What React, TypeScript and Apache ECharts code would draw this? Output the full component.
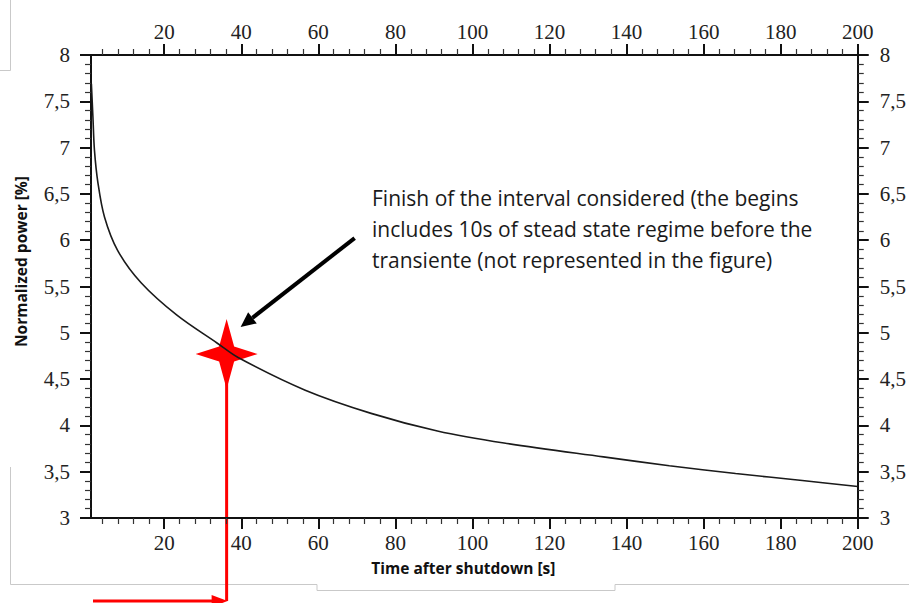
import React, { useEffect, useRef } from "react";
import * as echarts from "echarts";

// Time after shutdown [s]
const timeS = [1.1, 1.5, 1.9, 2.8, 4.5, 7.9, 14, 23.3, 33.7, 39.3, 56.6, 73.7, 90.9, 108.2, 134, 151.1, 168.3, 185.6, 200];
// Normalized power [%]
const powerPct = [7.69, 7.33, 6.97, 6.62, 6.25, 5.89, 5.54, 5.19, 4.89, 4.73, 4.38, 4.13, 3.94, 3.81, 3.66, 3.565, 3.48, 3.405, 3.34];
// End of the considered interval (red star)
const markerPoint = [36.2, 4.77];

const xMajorTicks = [20, 40, 60, 80, 100, 120, 140, 160, 180, 200];
const xMinorTicks = [4, 8, 12, 16, 24, 28, 32, 36, 44, 48, 52, 56, 64, 68, 72, 76, 84, 88, 92, 96, 104, 108, 112, 116, 124, 128, 132, 136, 144, 148, 152, 156, 164, 168, 172, 176, 184, 188, 192, 196];

const annotationLines = [
  "Finish of the interval considered (the begins",
  "includes 10s of stead state regime before the",
  "transiente (not represented in the figure)",
];

const X_MIN = 1;
const X_MAX = 200;
const Y_MIN = 3;
const Y_MAX = 8;

const tickFont = { fontFamily: "Liberation Serif", fontSize: 21, color: "#222" };

export default function App() {
  const ref = useRef<HTMLDivElement>(null);

  useEffect(() => {
    if (!ref.current) return;
    const chart = echarts.init(ref.current, undefined, { renderer: "svg" });

    const majorX = (position: string) => ({
      type: "value",
      position,
      min: X_MIN,
      max: X_MAX,
      axisLine: { show: true, onZero: false, lineStyle: { color: "#111", width: 2 } },
      axisTick: { show: true, customValues: xMajorTicks, length: 11, lineStyle: { color: "#111", width: 2 } },
      axisLabel: { show: true, customValues: xMajorTicks, margin: position === "top" ? 13 : 14, ...tickFont },
      splitLine: { show: false },
    });
    const minorX = (position: string) => ({
      type: "value",
      position,
      min: X_MIN,
      max: X_MAX,
      axisLine: { show: false, onZero: false },
      axisTick: { show: true, customValues: xMinorTicks, length: 6, lineStyle: { color: "#333", width: 1.2 } },
      axisLabel: { show: false },
      splitLine: { show: false },
    });
    const yAx = (position: string) => ({
      type: "value",
      position,
      min: Y_MIN,
      max: Y_MAX,
      interval: 0.5,
      axisLine: { show: true, onZero: false, lineStyle: { color: "#111", width: 2 } },
      axisTick: { show: true, length: 11, lineStyle: { color: "#111", width: 2 } },
      minorTick: { show: true, splitNumber: 5, length: 6, lineStyle: { color: "#333", width: 1.2 } },
      axisLabel: {
        show: true,
        margin: position === "left" ? 21 : 22,
        formatter: (v: number) => String(v).replace(".", ","),
        ...tickFont,
      },
      splitLine: { show: false },
      minorSplitLine: { show: false },
    });

    const xb = majorX("bottom") as any;
    xb.name = "Time after shutdown [s]";
    xb.nameLocation = "middle";
    xb.nameGap = 42;
    xb.nameTextStyle = { fontFamily: "Open Sans", fontWeight: "bold", fontSize: 15.5, color: "#111", padding: [0, 22, 0, 0] };

    const yl = yAx("left") as any;
    yl.name = "Normalized power [%]";
    yl.nameLocation = "middle";
    yl.nameGap = 62;
    yl.nameTextStyle = { fontFamily: "Open Sans", fontWeight: "bold", fontSize: 15.5, color: "#111", padding: [0, 0, 0, 50] };

    chart.setOption({
      animation: false,
      backgroundColor: "#fff",
      grid: { left: 91, right: 46, top: 55, bottom: 85, containLabel: false },
      xAxis: [xb, minorX("bottom"), majorX("top"), minorX("top")],
      yAxis: [yl, yAx("right")],
      series: [
        {
          type: "scatter",
          xAxisIndex: 0,
          yAxisIndex: 0,
          z: 1,
          symbol: "path://M0,-35L7.5,-7.5L31,0L7.5,7.5L0,35L-7.5,7.5L-31,0L-7.5,-7.5Z",
          symbolSize: [62, 70],
          itemStyle: { color: "#ff0000", opacity: 1 },
          data: [markerPoint],
        },
        {
          type: "line",
          xAxisIndex: 0,
          yAxisIndex: 0,
          z: 3,
          smooth: 0.33,
          showSymbol: false,
          lineStyle: { color: "#1a1a1a", width: 1.6 },
          data: timeS.map((t, i) => [t, powerPct[i]]),
        },
      ],
    });

    const [sx, sy] = chart.convertToPixel({ gridIndex: 0 }, markerPoint) as number[];
    const bottomY = 601;
    const gray = { stroke: "#c9c9c9", lineWidth: 1, fill: "none" };

    // black arrow pointing to the marker
    const tail = [sx + 128, sy - 116];
    const tip = [sx + 14, sy - 27];
    const ang = Math.atan2(tip[1] - tail[1], tip[0] - tail[0]);
    const hl = 15;
    const hw = 7;
    const base = [tip[0] - hl * Math.cos(ang), tip[1] - hl * Math.sin(ang)];
    const nx = -Math.sin(ang);
    const ny = Math.cos(ang);

    chart.setOption({
      graphic: [
        { type: "polyline", silent: true, shape: { points: [[0, 70.5], [10.5, 70.5], [10.5, 0]] }, style: gray },
        { type: "polyline", silent: true, shape: { points: [[10.5, 467], [10.5, 584.5], [317, 584.5], [317, 590.5], [615, 590.5], [615, 584.5], [909, 584.5]] }, style: gray },
        { type: "line", silent: true, z: 0, shape: { x1: sx, y1: sy, x2: sx, y2: bottomY }, style: { stroke: "#ff0000", lineWidth: 3 } },
        { type: "line", silent: true, shape: { x1: 93, y1: bottomY, x2: sx - 10, y2: bottomY }, style: { stroke: "#ff0000", lineWidth: 3 } },
        { type: "polygon", silent: true, shape: { points: [[sx - 15, bottomY - 6], [sx + 1, bottomY], [sx - 15, bottomY + 6]] }, style: { fill: "#ff0000" } },
        { type: "line", silent: true, shape: { x1: tail[0], y1: tail[1], x2: base[0], y2: base[1] }, style: { stroke: "#000", lineWidth: 4 } },
        {
          type: "polygon",
          silent: true,
          shape: { points: [tip, [base[0] + nx * hw, base[1] + ny * hw], [base[0] - nx * hw, base[1] - ny * hw]] },
          style: { fill: "#000" },
        },
        ...annotationLines.map((t, i) => ({
          type: "text",
          silent: true,
          x: 372,
          y: 198 + i * 31,
          style: { text: t, fontFamily: "Open Sans", fontSize: 21, fill: "#1a1a1a", verticalAlign: "middle", align: "left" },
        })),
      ],
    });

    return () => chart.dispose();
  }, []);

  return <div ref={ref} style={{ position: "fixed", left: 0, top: 0, width: 909, height: 603, background: "#fff" }} />;
}
